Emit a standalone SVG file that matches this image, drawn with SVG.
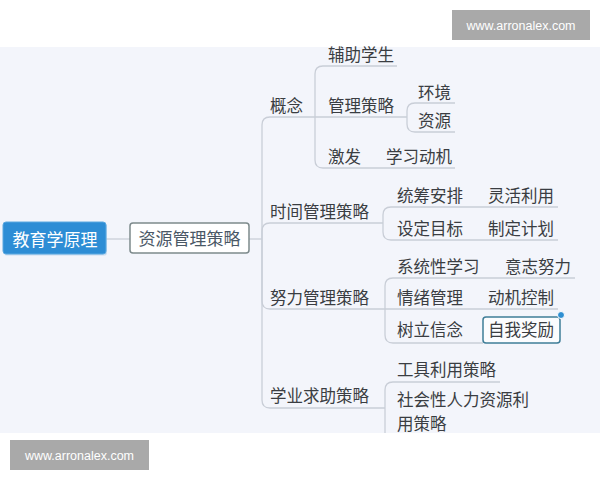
<svg xmlns="http://www.w3.org/2000/svg" width="600" height="480" viewBox="0 0 600 480">
<style>
.t{font-family:"Noto Sans CJK SC","Noto Sans",sans-serif;font-size:16.5px;fill:#3a3d42}
.c{fill:none;stroke:#c9ced7;stroke-width:1.3}
.wm{fill:#a9a9a9}
.wt{font-family:"Liberation Sans",Arial,sans-serif;font-size:12.5px;fill:#ffffff}
</style>
<rect x="0" y="0" width="600" height="480" fill="#ffffff"/>
<rect x="0" y="47" width="600" height="386" fill="#f3f5fb"/>
<g id="connectors">
<path class="c" d="M106,239 H130"/>
<path class="c" d="M249,239 H262"/>
<path class="c" d="M262,239 V125 Q262,117 270,117 H315"/>
<path class="c" d="M262,239 V231 Q262,223 270,223 H383"/>
<path class="c" d="M262,239 V301 Q262,309 270,309 H385"/>
<path class="c" d="M262,239 V400 Q262,408 270,408 H385"/>
<path class="c" d="M315,117 V74 Q315,66 323,66 H397"/>
<path class="c" d="M315,117 H407"/>
<path class="c" d="M315,117 V160 Q315,168 323,168 H455"/>
<path class="c" d="M407,117 V111 Q407,103 415,103 H455"/>
<path class="c" d="M407,117 V124 Q407,132 415,132 H455"/>
<path class="c" d="M383,223 V215 Q383,207 391,207 H558"/>
<path class="c" d="M383,223 V232 Q383,240 391,240 H558"/>
<path class="c" d="M385,309 V286 Q385,278 393,278 H575"/>
<path class="c" d="M385,309 H558"/>
<path class="c" d="M385,309 V335 Q385,343 393,343 H483"/>
<path class="c" d="M385,408 V390 Q385,382 393,382 H500"/>
<path class="c" d="M385,408 V433"/>
</g>
<g id="root">
<rect x="4" y="223.5" width="103" height="32" rx="3" fill="#9fc6e6" opacity="0.5"/>
<rect x="3" y="222" width="103" height="32" rx="3" fill="#2d8dd5" stroke="#5aa8e0" stroke-width="1"/>
<text x="55" y="246" text-anchor="middle" style="font-family:'Noto Sans CJK SC',sans-serif;font-size:17px;fill:#ffffff">教育学原理</text>
</g>
<g id="n-ziyuan">
<rect x="130" y="223" width="119" height="30" rx="3" fill="#ffffff" stroke="#7d8a8c" stroke-width="1.5"/>
<text x="189.5" y="245" text-anchor="middle" style="font-family:'Noto Sans CJK SC',sans-serif;font-size:17px;fill:#4a5866">资源管理策略</text>
</g>
<g id="n-gainian"><text class="t" x="270" y="112">概念</text></g>
<g id="n-fuzhu"><text class="t" x="328" y="61">辅助学生</text></g>
<g id="n-guanli"><text class="t" x="328" y="112">管理策略</text></g>
<g id="n-huanjing"><text class="t" x="418" y="99">环境</text></g>
<g id="n-ziyuan2"><text class="t" x="418" y="127">资源</text></g>
<g id="n-jifa"><text class="t" x="328" y="163">激发</text></g>
<g id="n-dongji"><text class="t" x="386" y="163">学习动机</text></g>
<g id="n-shijian"><text class="t" x="270" y="218">时间管理策略</text></g>
<g id="n-tongchou"><text class="t" x="397" y="202">统筹安排</text></g>
<g id="n-linghuo"><text class="t" x="488" y="202">灵活利用</text></g>
<g id="n-sheding"><text class="t" x="397" y="235">设定目标</text></g>
<g id="n-zhiding"><text class="t" x="488" y="235">制定计划</text></g>
<g id="n-nuli"><text class="t" x="270" y="304">努力管理策略</text></g>
<g id="n-xitong"><text class="t" x="397" y="273">系统性学习</text></g>
<g id="n-yizhi"><text class="t" x="505" y="273">意志努力</text></g>
<g id="n-qingxu"><text class="t" x="397" y="304">情绪管理</text></g>
<g id="n-kongzhi"><text class="t" x="488" y="304">动机控制</text></g>
<g id="n-shuli"><text class="t" x="397" y="336">树立信念</text></g>
<g id="n-ziwo">
<rect x="483" y="317" width="77" height="26" rx="3" fill="#fbfcfe" stroke="#3f7d98" stroke-width="1.5"/>
<text class="t" x="488" y="336">自我奖励</text>
<circle cx="561" cy="315" r="3.5" fill="#2f8fd2" stroke="#ffffff" stroke-width="1"/>
</g>
<g id="n-xueye"><text class="t" x="270" y="402">学业求助策略</text></g>
<g id="n-gongju"><text class="t" x="397" y="376">工具利用策略</text></g>
<g id="n-shehui"><text class="t" x="397" y="406">社会性人力资源利</text><text class="t" x="397" y="430">用策略</text></g>
<g id="watermarks">
<rect class="wm" x="452" y="10" width="138" height="30"/>
<text class="wt" x="521" y="30" text-anchor="middle">www.arronalex.com</text>
<rect class="wm" x="10" y="440" width="139" height="30"/>
<text class="wt" x="79.5" y="460" text-anchor="middle">www.arronalex.com</text>
</g>
</svg>
